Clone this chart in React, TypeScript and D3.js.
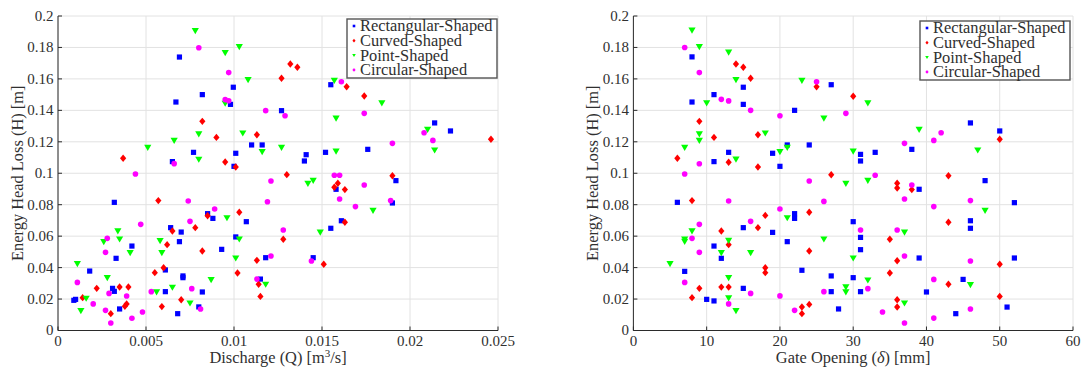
import React from "react";
import * as d3 from "d3";

type Pt = [number, number];

// ---- axis ticks and legend ----
const hTicks = [0, 0.02, 0.04, 0.06, 0.08, 0.1, 0.12, 0.14, 0.16, 0.18, 0.2];
const qTicks = [0, 0.005, 0.01, 0.015, 0.02, 0.025];
const gateTicks = [0, 10, 20, 30, 40, 50, 60];
const seriesNames = ["Rectangular-Shaped", "Curved-Shaped", "Point-Shaped", "Circular-Shaped"];
const seriesColors = ["#0000ff", "#ff0000", "#00ff00", "#ff00ff"];
const seriesShapes = ["square", "diamond", "triangle", "circle"];

// ---- discharge Q [m^3/s] vs head loss H [m] ----
const rectQ: Pt[] = [
  [0.0069, 0.1739], [0.00996, 0.1547], [0.0082, 0.15], [0.0067, 0.1453], [0.0098, 0.1438],
  [0.0127, 0.1398], [0.011, 0.118], [0.0116, 0.118], [0.0077, 0.1133], [0.0065, 0.1074],
  [0.0101, 0.1127], [0.01, 0.1044], [0.0155, 0.1563], [0.0214, 0.132], [0.0223, 0.1269],
  [0.0176, 0.1152], [0.0152, 0.1133], [0.0141, 0.1118], [0.014, 0.1078], [0.0192, 0.0953],
  [0.0158, 0.0898], [0.019, 0.0811], [0.0161, 0.0698], [0.0155, 0.065], [0.0145, 0.0463],
  [0.0032, 0.0815], [0.0085, 0.0743], [0.0088, 0.0713], [0.0107, 0.0692], [0.0064, 0.0654],
  [0.007, 0.0626], [0.0042, 0.0537], [0.0033, 0.0459], [0.0069, 0.0565], [0.0101, 0.0595],
  [0.0093, 0.0516], [0.0118, 0.0463], [0.0018, 0.0378], [0.0061, 0.0385], [0.0071, 0.0347],
  [0.0071, 0.0336], [0.0115, 0.0327], [0.0031, 0.0268], [0.0032, 0.0249], [0.0061, 0.0247],
  [0.0082, 0.0245], [0.0009, 0.0192], [0.001, 0.0198], [0.0035, 0.0137], [0.008, 0.015],
  [0.0068, 0.0107],
];
const curvedQ: Pt[] = [
  [0.0132, 0.1695], [0.0136, 0.1674], [0.0127, 0.1604], [0.0082, 0.133], [0.009, 0.1228],
  [0.0113, 0.1245], [0.0037, 0.1095], [0.0095, 0.1072], [0.0101, 0.104], [0.013, 0.0991],
  [0.0164, 0.155], [0.0174, 0.1491], [0.0246, 0.1216], [0.019, 0.0984], [0.0159, 0.0936],
  [0.0157, 0.0911], [0.0163, 0.0896], [0.0163, 0.0688], [0.0128, 0.058], [0.0151, 0.0421],
  [0.0057, 0.0826], [0.0085, 0.073], [0.0103, 0.0752], [0.0078, 0.0654], [0.0065, 0.0633],
  [0.0062, 0.0546], [0.0082, 0.0506], [0.0113, 0.0446], [0.006, 0.0399], [0.0055, 0.0368],
  [0.0102, 0.0366], [0.0114, 0.0294], [0.0115, 0.0217], [0.0022, 0.0268], [0.0035, 0.0277],
  [0.004, 0.0277], [0.0014, 0.0209], [0.0039, 0.0169], [0.0038, 0.0154], [0.007, 0.0196],
  [0.0059, 0.0152], [0.003, 0.0107],
];
const pointQ: Pt[] = [
  [0.0078, 0.1907], [0.0095, 0.1767], [0.0103, 0.1805], [0.0108, 0.1595], [0.0095, 0.1445],
  [0.008, 0.125], [0.0105, 0.1256], [0.0066, 0.1209], [0.0051, 0.1165], [0.0127, 0.1165],
  [0.0116, 0.1137], [0.008, 0.1089], [0.0157, 0.1591], [0.0184, 0.1447], [0.0158, 0.1351],
  [0.021, 0.1279], [0.0214, 0.1148], [0.0158, 0.1141], [0.0145, 0.0955], [0.0142, 0.0936],
  [0.0179, 0.0764], [0.0149, 0.0626], [0.0096, 0.0717], [0.0034, 0.0633], [0.0035, 0.0582],
  [0.0026, 0.0565], [0.0041, 0.0495], [0.0058, 0.0571], [0.0059, 0.0495], [0.0103, 0.0582],
  [0.0101, 0.0461], [0.0011, 0.0425], [0.0028, 0.0336], [0.0087, 0.0323], [0.0118, 0.0294],
  [0.0056, 0.0245], [0.0065, 0.0275], [0.0016, 0.0205], [0.0013, 0.0126], [0.0075, 0.0175],
];
const circularQ: Pt[] = [
  [0.008, 0.1798], [0.0097, 0.164], [0.0095, 0.1468], [0.0097, 0.1461], [0.0118, 0.1398],
  [0.0129, 0.1366], [0.0066, 0.1061], [0.0044, 0.0995], [0.0121, 0.0951], [0.0161, 0.1582],
  [0.0174, 0.1381], [0.0208, 0.1258], [0.0213, 0.1209], [0.019, 0.119], [0.0157, 0.0987],
  [0.016, 0.0987], [0.0174, 0.0925], [0.016, 0.0836], [0.0169, 0.0788], [0.0189, 0.0826],
  [0.0128, 0.0639], [0.0144, 0.0442], [0.0074, 0.0824], [0.0119, 0.0819], [0.0089, 0.0773],
  [0.0047, 0.0675], [0.0075, 0.0694], [0.0028, 0.0586], [0.0027, 0.0497], [0.0121, 0.0474],
  [0.0011, 0.0306], [0.0113, 0.0327], [0.0029, 0.0236], [0.0039, 0.0219], [0.0053, 0.0247],
  [0.0076, 0.0266], [0.002, 0.0169], [0.0081, 0.0137], [0.0027, 0.0128], [0.0048, 0.0118],
  [0.0042, 0.0078], [0.003, 0.0048],
];

// ---- gate opening δ [mm] vs head loss H [m] ----
const rectGate: Pt[] = [
  [8, 0.174], [15, 0.1547], [27, 0.1563], [11, 0.15], [8, 0.1453], [15, 0.1438], [22, 0.14],
  [21, 0.118], [24, 0.118], [13, 0.1133], [19, 0.1127], [11, 0.1074], [20, 0.1044], [46, 0.132],
  [50, 0.1269], [38, 0.1152], [31, 0.112], [31, 0.1078], [33, 0.1133], [48, 0.0953], [39, 0.0898],
  [52, 0.0813], [30, 0.0692], [46, 0.0698], [46, 0.065], [31, 0.0592], [31, 0.0514], [39, 0.0461],
  [52, 0.0461], [27, 0.0347], [30, 0.0336], [45, 0.0325], [27, 0.0247], [31, 0.0247], [40, 0.0245],
  [28, 0.0137], [44, 0.0107], [51, 0.0149], [6, 0.0815], [22, 0.0743], [22, 0.0713], [19, 0.0624],
  [15, 0.0654], [11, 0.0537], [12, 0.0459], [21, 0.0565], [7, 0.0376], [23, 0.0383], [15, 0.0268],
  [10, 0.0198], [11, 0.0188],
];
const curvedGate: Pt[] = [
  [14, 0.1695], [15, 0.1674], [16, 0.1604], [25, 0.155], [9, 0.133], [11, 0.1228], [17, 0.1245],
  [6, 0.1095], [13, 0.107], [17, 0.104], [27, 0.099], [30, 0.149], [50, 0.1216], [43, 0.0984],
  [36, 0.0936], [36, 0.0906], [38, 0.0896], [43, 0.0688], [35, 0.058], [36, 0.0444], [50, 0.0421],
  [35, 0.0366], [43, 0.0294], [36, 0.0196], [50, 0.0217], [36, 0.0149], [8, 0.0826], [18, 0.0732],
  [24, 0.0752], [17, 0.0654], [12, 0.0633], [13, 0.0546], [24, 0.0506], [18, 0.0399], [18, 0.0368],
  [9, 0.0268], [12, 0.0276], [13, 0.0276], [8, 0.0209], [23, 0.0149], [23, 0.0107], [24, 0.0166],
];
const pointGate: Pt[] = [
  [8, 0.191], [9, 0.1805], [13, 0.177], [14, 0.1595], [23, 0.159], [10, 0.1447], [26, 0.135],
  [9, 0.125], [9, 0.1209], [18, 0.1256], [7, 0.1165], [21, 0.1165], [20, 0.1137], [14, 0.109],
  [32, 0.1447], [39, 0.1279], [47, 0.1148], [30, 0.1141], [32, 0.0955], [29, 0.0936], [48, 0.0764],
  [37, 0.0626], [26, 0.0582], [30, 0.0461], [32, 0.0321], [46, 0.0292], [29, 0.0277], [29, 0.0245],
  [37, 0.0175], [21, 0.0717], [8, 0.0633], [7, 0.0582], [7, 0.0567], [13, 0.0573], [12, 0.0495],
  [16, 0.0495], [5, 0.0425], [13, 0.0336], [13, 0.0207], [14, 0.0126],
];
const circularGate: Pt[] = [
  [7, 0.18], [9, 0.164], [25, 0.1582], [12, 0.147], [13, 0.146], [16, 0.14], [20, 0.1366],
  [9, 0.106], [7, 0.0995], [24, 0.0951], [29, 0.1381], [42, 0.1258], [41, 0.1209], [37, 0.119],
  [33, 0.0987], [38, 0.0925], [26, 0.0821], [37, 0.0836], [46, 0.0826], [41, 0.0788], [31, 0.0639],
  [36, 0.0639], [37, 0.0474], [46, 0.0442], [41, 0.0325], [26, 0.0247], [32, 0.0266], [34, 0.0118],
  [46, 0.0137], [41, 0.0079], [37, 0.0048], [13, 0.0824], [20, 0.0773], [9, 0.0675], [16, 0.0694],
  [8, 0.0586], [9, 0.0497], [7, 0.0306], [16, 0.0236], [13, 0.0169], [20, 0.022], [22, 0.0128],
];

const FONT = "Liberation Serif, DejaVu Serif, serif";
const AXIS = "#2b2b2b";
const TEXT = "#303030";
const GRID = "#e2e2e2";

function Marker({ shape, x, y, color, s = 1 }: { shape: string; x: number; y: number; color: string; s?: number }) {
  if (shape === "square") {
    const h = 2.6 * s;
    return <rect x={x - h} y={y - h} width={2 * h} height={2 * h} fill={color} />;
  }
  if (shape === "diamond") {
    const w = 3.1 * s, h = 3.7 * s;
    return <path d={`M${x},${y - h}L${x + w},${y}L${x},${y + h}L${x - w},${y}Z`} fill={color} />;
  }
  if (shape === "triangle") {
    const w = 3.6 * s;
    return <path d={`M${x - w},${y - 2.6 * s}L${x + w},${y - 2.6 * s}L${x},${y + 3.6 * s}Z`} fill={color} />;
  }
  return <circle cx={x} cy={y} r={2.8 * s} fill={color} />;
}

function fmt(v: number) {
  return String(+v.toFixed(4));
}

function Panel({
  xDomain, xRange, xTicks, series, xLabel, legendX, legendY,
}: {
  xDomain: [number, number];
  xRange: [number, number];
  xTicks: number[];
  series: Pt[][];
  xLabel: React.ReactNode;
  legendX: number;
  legendY: number;
}) {
  const x = d3.scaleLinear().domain(xDomain).range(xRange);
  const y = d3.scaleLinear().domain([0, 0.2]).range([330.5, 16]);
  const [x0, x1] = xRange;
  const yB = y(0), yT = y(0.2);
  const rowY = [7, 21.7, 36.3, 51];
  return (
    <g>
      {/* grid */}
      {xTicks.map((t) => (
        <line key={"gx" + t} x1={x(t)} x2={x(t)} y1={yB} y2={yT} stroke={GRID} strokeWidth={1} />
      ))}
      {hTicks.map((t) => (
        <line key={"gy" + t} x1={x0} x2={x1} y1={y(t)} y2={y(t)} stroke={GRID} strokeWidth={1} />
      ))}
      {/* axes */}
      <line x1={x0} x2={x1} y1={yB} y2={yB} stroke={AXIS} strokeWidth={1} />
      <line x1={x0} x2={x0} y1={yB} y2={yT} stroke={AXIS} strokeWidth={1} />
      {xTicks.map((t) => (
        <g key={"tx" + t}>
          <line x1={x(t)} x2={x(t)} y1={yB} y2={yB - 4} stroke={AXIS} />
          <text x={x(t)} y={346} fontFamily={FONT} fontSize={15} textAnchor="middle" fill={TEXT}>{fmt(t)}</text>
        </g>
      ))}
      {hTicks.map((t) => (
        <g key={"ty" + t}>
          <line x1={x0} x2={x0 + 4} y1={y(t)} y2={y(t)} stroke={AXIS} />
          <text x={x0 - 4.5} y={y(t)} dy="0.33em" fontFamily={FONT} fontSize={15} textAnchor="end" fill={TEXT}>{fmt(t)}</text>
        </g>
      ))}
      {/* labels */}
      <text x={(x0 + x1) / 2} y={363} fontFamily={FONT} fontSize={16.4} textAnchor="middle" fill={TEXT}>{xLabel}</text>
      <text
        transform={`translate(${x0 - 35},${(yB + yT) / 2}) rotate(-90)`}
        fontFamily={FONT}
        fontSize={16.4}
        textAnchor="middle"
        fill={TEXT}
      >
        Energy Head Loss (H) [m]
      </text>
      {/* points */}
      {series.map((pts, si) => (
        <g key={"s" + si}>
          {pts.map((p, i) => (
            <Marker key={i} shape={seriesShapes[si]} x={x(p[0])} y={y(p[1])} color={seriesColors[si]} />
          ))}
        </g>
      ))}
      {/* legend */}
      <g transform={`translate(${legendX},${legendY})`}>
        <rect x={0} y={0} width={150} height={59} fill="#fff" stroke="#555" strokeWidth={1.4} />
        {seriesNames.map((n, i) => (
          <g key={n}>
            <Marker shape={seriesShapes[i]} x={7} y={rowY[i]} color={seriesColors[i]} s={0.5} />
            <text x={13} y={rowY[i]} dy="0.33em" fontFamily={FONT} fontSize={16.4} fill={TEXT}>{n}</text>
          </g>
        ))}
      </g>
    </g>
  );
}

export default function App() {
  return (
    <svg
      width={1082}
      height={369}
      viewBox="0 0 1082 369"
      style={{ position: "absolute", left: 0, top: 0, background: "#fff" }}
    >
      <rect width={1082} height={369} fill="#fff" />
      <Panel
        xDomain={[0, 0.025]}
        xRange={[58, 498]}
        xTicks={qTicks}
        series={[rectQ, curvedQ, pointQ, circularQ]}
        xLabel={<>Discharge (Q) [m<tspan dy={-6} fontSize={11}>3</tspan><tspan dy={6}>/s]</tspan></>}
        legendX={347}
        legendY={19}
      />
      <Panel
        xDomain={[0, 60]}
        xRange={[633.4, 1073]}
        xTicks={gateTicks}
        series={[rectGate, curvedGate, pointGate, circularGate]}
        xLabel={<>Gate Opening (<tspan fontStyle="italic">δ</tspan>) [mm]</>}
        legendX={920}
        legendY={21}
      />
    </svg>
  );
}
